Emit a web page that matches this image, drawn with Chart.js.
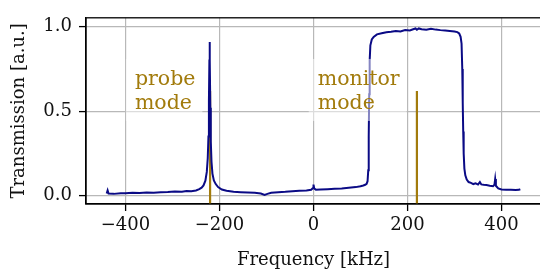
<!DOCTYPE html>
<html>
<head>
<meta charset="utf-8">
<script src="https://cdn.jsdelivr.net/npm/chart.js@4/dist/chart.umd.min.js"></script>
<style>
  html, body { margin: 0; padding: 0; background: #fff; overflow: hidden; }
  #wrap { width: 545px; height: 271px; }
</style>
</head>
<body>
<div id="wrap"><canvas id="spectrum" width="545" height="271"></canvas></div>
<script>
var freq = [-440, -438, -436, -425, -410, -400, -385, -370, -355, -340, -325, -310, -295, -280, -270,
    -260, -250, -243, -238, -234, -230, -227, -225, -223.5, -222.5, -221.5, -221, -220.5, -219.5, -218.5,
    -217, -215, -212, -208, -203, -195, -185, -170, -155, -140, -125, -112, -104, -98, -90,
    -75, -60, -45, -30, -15, -5, -1, 0, 1.5, 5, 15, 30, 45, 60, 75,
    90, 100, 106, 110, 113, 115, 116.5, 117.5, 118.5, 119.5, 121, 124, 128, 135, 145,
    155, 165, 175, 185, 195, 205, 212, 217, 220, 224, 230, 240, 250, 260, 270,
    280, 290, 300, 306, 310, 313, 315, 316.5, 317.5, 318.5, 319.5, 321, 323, 326, 330,
    335, 340, 345, 350, 354, 357, 362, 368, 375, 382, 385, 386.5, 388, 393, 400,
    410, 420, 430, 437, 440];
var trans = [0.012, 0.030, 0.012, 0.010, 0.014, 0.013, 0.016, 0.015, 0.018, 0.017, 0.020, 0.021, 0.024, 0.022, 0.027,
    0.026, 0.030, 0.038, 0.047, 0.060, 0.088, 0.14, 0.22, 0.35, 0.56, 0.80, 0.91, 0.80, 0.52, 0.32,
    0.20, 0.13, 0.09, 0.068, 0.050, 0.036, 0.028, 0.022, 0.020, 0.018, 0.016, 0.012, 0.004, 0.010, 0.016,
    0.020, 0.022, 0.026, 0.028, 0.030, 0.034, 0.045, 0.065, 0.042, 0.035, 0.036, 0.038, 0.040, 0.042, 0.046,
    0.050, 0.055, 0.060, 0.064, 0.070, 0.085, 0.15, 0.35, 0.60, 0.80, 0.89, 0.925, 0.94, 0.955, 0.962,
    0.968, 0.970, 0.975, 0.972, 0.980, 0.978, 0.985, 0.990, 0.982, 0.990, 0.985, 0.982, 0.988, 0.983, 0.980,
    0.978, 0.975, 0.972, 0.968, 0.960, 0.940, 0.900, 0.75, 0.55, 0.38, 0.25, 0.16, 0.12, 0.095, 0.080,
    0.075, 0.068, 0.072, 0.065, 0.080, 0.066, 0.064, 0.062, 0.058, 0.055, 0.065, 0.098, 0.058, 0.042, 0.036,
    0.035, 0.034, 0.033, 0.034, 0.037];

// mode positions (kHz) and marker height
var modeFreqs = [-220, 220];
var modeTop = 0.62;
var modeBottom = -0.1;

// annotation labels
var labelText = [['probe', 'mode'], ['monitor', 'mode']];
var labelFreq = [-380, 9];
var labelTop = [0.75, 0.75];

var xTicks = [-400, -200, 0, 200, 400];
var yTicks = [0, 0.5, 1.0];

var gold = '#a27b0c';
var serif = '"DejaVu Serif", serif';

var points = freq.map(function(f, i) { return {x: f, y: trans[i]}; });

var datasets = [{
    data: points,
    borderColor: '#0a0a85',
    borderWidth: 2,
    pointRadius: 0,
    tension: 0
}];
modeFreqs.forEach(function(f) {
    datasets.push({
        data: [{x: f, y: modeBottom}, {x: f, y: modeTop}],
        borderColor: gold,
        borderWidth: 2.2,
        pointRadius: 0
    });
});

var labelPlugin = {
    id: 'labels',
    afterDatasetsDraw: function(chart) {
        var ctx = chart.ctx;
        var xs = chart.scales.x, ys = chart.scales.y;
        ctx.save();
        ctx.font = '20.5px ' + serif;
        labelText.forEach(function(lines, i) {
            var left = xs.getPixelForValue(labelFreq[i]);
            var top = ys.getPixelForValue(labelTop[i]);
            var w = Math.max.apply(null, lines.map(function(s) { return ctx.measureText(s).width; }));
            var lh = 24;
            ctx.fillStyle = 'rgba(255,255,255,0.5)';
            ctx.fillRect(left - 9, top - 10, w + 16, lines.length * lh + 14);
            ctx.fillStyle = gold;
            ctx.textBaseline = 'top';
            lines.forEach(function(s, j) { ctx.fillText(s, left, top + j * lh); });
        });
        ctx.restore();
    },
    afterDraw: function(chart) {
        var a = chart.chartArea, ctx = chart.ctx;
        ctx.save();
        ctx.strokeStyle = '#000';
        ctx.lineWidth = 1.3;
        ctx.strokeRect(a.left, a.top, a.right - a.left, a.bottom - a.top);
        ctx.restore();
    }
};

new Chart(document.getElementById('spectrum').getContext('2d'), {
    type: 'line',
    data: { datasets: datasets },
    plugins: [labelPlugin],
    options: {
        responsive: false,
        animation: false,
        layout: { padding: { top: 12, right: 4, left: 0, bottom: 0 } },
        plugins: { legend: { display: false }, tooltip: { enabled: false } },
        scales: {
            x: {
                type: 'linear',
                min: -484,
                max: 484,
                afterBuildTicks: function(s) { s.ticks = xTicks.map(function(v) { return {value: v}; }); },
                afterFit: function(s) { s.height = 67; },
                grid: { color: '#b8b8b8', lineWidth: 1.2, tickColor: '#000', tickWidth: 1.3, tickLength: 7 },
                border: { color: '#000', width: 1.3 },
                ticks: {
                    color: '#111',
                    font: { family: serif, size: 18 },
                    padding: 4,
                    maxRotation: 0,
                    callback: function(v) { return v < 0 ? '\u2212' + Math.abs(v) : String(v); }
                },
                title: {
                    display: true,
                    text: 'Frequency [kHz]',
                    color: '#111',
                    font: { family: serif, size: 18 },
                    padding: { top: 0, bottom: 0 }
                }
            },
            y: {
                min: -0.05,
                max: 1.053,
                afterBuildTicks: function(s) { s.ticks = yTicks.map(function(v) { return {value: v}; }); },
                afterFit: function(s) { s.width = 86; },
                grid: { color: '#b8b8b8', lineWidth: 1.2, tickColor: '#000', tickWidth: 1.3, tickLength: 7 },
                border: { color: '#000', width: 1.3 },
                ticks: {
                    color: '#111',
                    font: { family: serif, size: 18 },
                    padding: 7,
                    callback: function(v) { return v.toFixed(1); }
                },
                title: {
                    display: true,
                    text: 'Transmission [a.u.]',
                    color: '#111',
                    font: { family: serif, size: 18 },
                    padding: { top: 9, bottom: 0 }
                }
            }
        }
    }
});
</script>
</body>
</html>
